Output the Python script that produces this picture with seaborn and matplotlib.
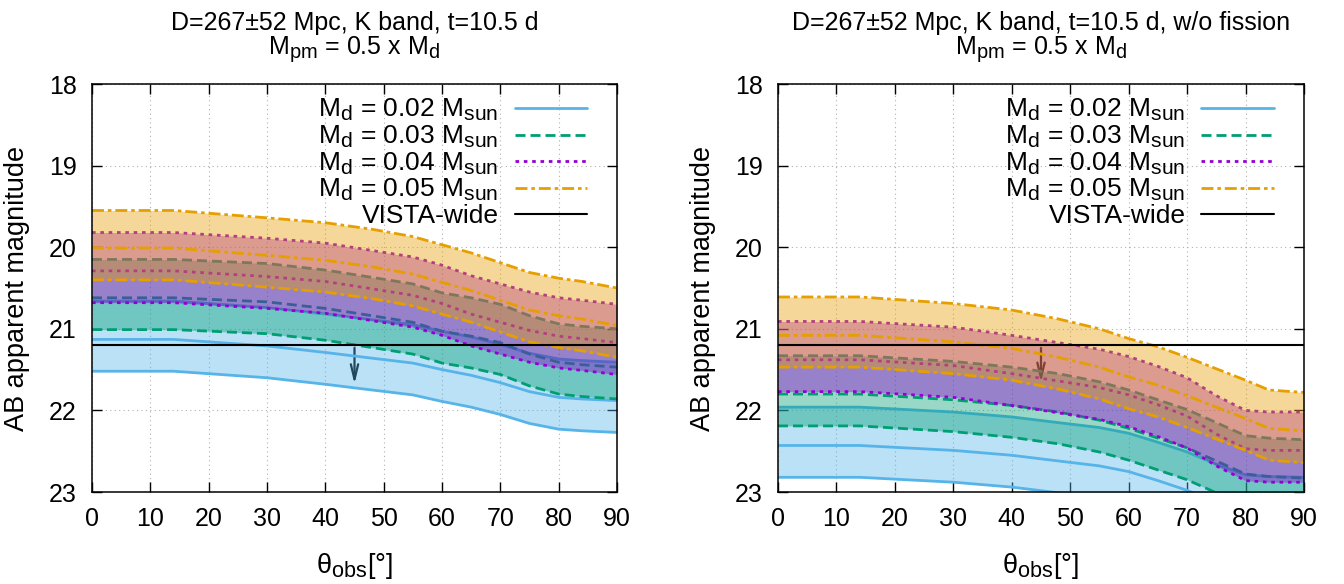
import matplotlib
matplotlib.use("Agg")
import matplotlib.pyplot as plt
import seaborn as sns
from matplotlib.lines import Line2D
try:
    import matplotlib._mathtext as _mt
    _mt.SHRINK_FACTOR = 0.8
except Exception:
    pass

# ---------------- data ----------------
theta = [0, 14, 30, 40, 48, 55, 60, 65, 70, 75, 80, 84, 90]
masses = ["0.02", "0.03", "0.04", "0.05"]
vista_mag = 21.2
arrow_theta = 45
arrow_end_left = 21.71
arrow_end_right = 21.69

# left panel (with fission): bright (D-52), central (D), faint (D+52)
L002_b = [20.66, 20.66, 20.74, 20.82, 20.89, 20.95, 21.03, 21.10, 21.19, 21.30, 21.37, 21.39, 21.41]
L002_c = [21.13, 21.13, 21.21, 21.29, 21.36, 21.42, 21.50, 21.57, 21.66, 21.77, 21.84, 21.86, 21.88]
L002_f = [21.52, 21.52, 21.60, 21.68, 21.75, 21.81, 21.89, 21.96, 22.05, 22.16, 22.23, 22.25, 22.27]
L003_b = [20.15, 20.15, 20.20, 20.28, 20.37, 20.45, 20.56, 20.62, 20.70, 20.84, 20.94, 20.97, 21.00]
L003_c = [20.62, 20.62, 20.67, 20.75, 20.84, 20.92, 21.03, 21.09, 21.17, 21.31, 21.41, 21.44, 21.47]
L003_f = [21.01, 21.01, 21.06, 21.14, 21.23, 21.31, 21.42, 21.48, 21.56, 21.70, 21.80, 21.83, 21.86]
L004_b = [19.82, 19.82, 19.89, 19.95, 20.04, 20.12, 20.22, 20.35, 20.45, 20.55, 20.62, 20.65, 20.70]
L004_c = [20.29, 20.29, 20.36, 20.42, 20.51, 20.59, 20.69, 20.82, 20.92, 21.02, 21.09, 21.12, 21.17]
L004_f = [20.68, 20.68, 20.75, 20.81, 20.90, 20.98, 21.08, 21.21, 21.31, 21.41, 21.48, 21.51, 21.56]
L005_b = [19.55, 19.55, 19.64, 19.70, 19.78, 19.87, 19.97, 20.07, 20.19, 20.31, 20.38, 20.42, 20.50]
L005_c = [20.01, 20.01, 20.10, 20.16, 20.24, 20.33, 20.43, 20.53, 20.65, 20.77, 20.84, 20.88, 20.96]
L005_f = [20.40, 20.40, 20.49, 20.55, 20.63, 20.72, 20.82, 20.92, 21.04, 21.16, 21.23, 21.27, 21.35]

# right panel (w/o fission)
R002_b = [21.96, 21.96, 22.02, 22.08, 22.15, 22.21, 22.28, 22.39, 22.51, 22.66, 22.79, 22.81, 22.82]
R002_c = [22.43, 22.43, 22.49, 22.55, 22.62, 22.68, 22.75, 22.86, 22.98, 23.13, 23.26, 23.28, 23.29]
R002_f = [22.82, 22.82, 22.88, 22.94, 23.01, 23.07, 23.14, 23.25, 23.37, 23.52, 23.65, 23.67, 23.68]
R003_b = [21.33, 21.33, 21.40, 21.47, 21.55, 21.65, 21.75, 21.87, 21.99, 22.15, 22.31, 22.34, 22.36]
R003_c = [21.80, 21.80, 21.87, 21.94, 22.02, 22.12, 22.22, 22.34, 22.46, 22.62, 22.78, 22.81, 22.83]
R003_f = [22.19, 22.19, 22.26, 22.33, 22.41, 22.51, 22.61, 22.73, 22.85, 23.01, 23.17, 23.20, 23.22]
R004_b = [20.91, 20.91, 20.98, 21.08, 21.17, 21.25, 21.34, 21.46, 21.60, 21.82, 22.00, 22.02, 22.02]
R004_c = [21.38, 21.38, 21.45, 21.55, 21.64, 21.72, 21.81, 21.93, 22.07, 22.29, 22.47, 22.49, 22.49]
R004_f = [21.77, 21.77, 21.84, 21.94, 22.03, 22.11, 22.20, 22.32, 22.46, 22.68, 22.86, 22.88, 22.88]
R005_b = [20.61, 20.61, 20.69, 20.77, 20.88, 21.00, 21.12, 21.22, 21.35, 21.49, 21.63, 21.75, 21.78]
R005_c = [21.08, 21.08, 21.16, 21.24, 21.35, 21.47, 21.59, 21.69, 21.82, 21.96, 22.10, 22.22, 22.25]
R005_f = [21.47, 21.47, 21.55, 21.63, 21.74, 21.86, 21.98, 22.08, 22.21, 22.35, 22.49, 22.61, 22.64]

left_sets = [(L002_b, L002_c, L002_f), (L003_b, L003_c, L003_f),
             (L004_b, L004_c, L004_f), (L005_b, L005_c, L005_f)]
right_sets = [(R002_b, R002_c, R002_f), (R003_b, R003_c, R003_f),
              (R004_b, R004_c, R004_f), (R005_b, R005_c, R005_f)]

title1_left = "D=267±52 Mpc, K band, t=10.5 d"
title1_right = "D=267±52 Mpc, K band, t=10.5 d, w/o fission"
title2 = r"M$_{pm}$ = 0.5 x M$_d$"
xticks = [0, 10, 20, 30, 40, 50, 60, 70, 80, 90]
yticks = [18, 19, 20, 21, 22, 23]

# ---------------- style ----------------
sns.set_theme(style="ticks")
plt.rcParams["font.family"] = ["Liberation Sans", "DejaVu Sans"]
plt.rcParams["mathtext.default"] = "regular"
plt.rcParams["axes.linewidth"] = 1.1
plt.rcParams["axes.edgecolor"] = "black"
plt.rcParams["text.color"] = "black"
plt.rcParams["axes.labelcolor"] = "black"
plt.rcParams["xtick.color"] = "black"
plt.rcParams["ytick.color"] = "black"
plt.rcParams["xtick.labelcolor"] = "black"
plt.rcParams["ytick.labelcolor"] = "black"

colors = ["#56b4e9", "#009e73", "#9400d3", "#e69f00"]
dash_list = [None, (3.6, 1.8), (1.3, 1.7), (4.3, 1.4, 1.3, 1.4)]
LW = 2.0
FS = 18
FS_LAB = 19.5
FS_LEG = 19

W, H = 1344, 584
fig = plt.figure(figsize=(W / 100, H / 100), dpi=100)
axL = fig.add_axes([92 / W, (H - 492) / H, 525 / W, 408 / H])
axR = fig.add_axes([778 / W, (H - 492) / H, 526 / W, 408 / H])


def draw(ax, sets, arrow_end, title1):
    ax.annotate("", xy=(arrow_theta, arrow_end), xytext=(arrow_theta, vista_mag),
                arrowprops=dict(arrowstyle="->,head_length=0.9,head_width=0.22",
                                color="black", lw=1.6), zorder=1)
    for k, (b, c, f) in enumerate(sets):
        col = colors[k]
        ax.fill_between(theta, b, f, color=col, alpha=0.4, lw=0, zorder=2 + 2 * k)
        for vals in (b, c, f):
            sns.lineplot(x=theta, y=vals, ax=ax, color=col, lw=LW,
                         errorbar=None, legend=False, sort=False)
            ln = ax.lines[-1]
            ln.set_zorder(3 + 2 * k)
            ln.set_solid_capstyle("butt")
            if dash_list[k] is not None:
                ln.set_dashes(dash_list[k])
                ln.set_dash_capstyle("butt")
    ax.axhline(vista_mag, color="black", lw=1.5, zorder=20)

    ax.set_xlim(0, 90)
    ax.set_ylim(23, 18)
    ax.set_xticks(xticks)
    ax.set_yticks(yticks)
    ax.grid(True, color="#b0b0b0", ls=(0, (1, 3)), lw=0.8)
    ax.set_axisbelow(True)
    ax.tick_params(direction="in", length=7, width=1.0, top=True, right=True,
                   labelsize=FS, pad=11, color="black", labelcolor="black")
    ax.set_xlabel(r"θ$_{obs}$[°]", fontsize=FS_LAB)
    ax.set_ylabel("AB apparent magnitude", fontsize=FS_LAB)
    ax.xaxis.set_label_coords(0.5, -0.145)
    ax.yaxis.set_label_coords(-0.118, 0.5)
    for s in ax.spines.values():
        s.set_visible(True)
        s.set_zorder(30)

    ax.text(0.5, 1.133, title1, transform=ax.transAxes, ha="center",
            va="baseline", fontsize=FS)
    ax.text(0.5, 1.071, title2, transform=ax.transAxes, ha="center",
            va="baseline", fontsize=FS)

    handles = []
    labels = []
    for k, m in enumerate(masses):
        h = Line2D([0], [0], color=colors[k], lw=LW)
        if dash_list[k] is not None:
            h.set_dashes(dash_list[k])
            h.set_dash_capstyle("butt")
        handles.append(h)
        labels.append(r"M$_d$ = " + m + r" M$_{sun}$")
    handles.append(Line2D([0], [0], color="black", lw=1.5))
    labels.append("VISTA-wide")
    leg = ax.legend(handles, labels, loc="upper right", bbox_to_anchor=(0.943, 0.968),
                    frameon=False, markerfirst=False, fontsize=FS_LEG, handlelength=2.75,
                    handletextpad=0.6, labelspacing=0.02, borderpad=0, borderaxespad=0)
    for t in leg.get_texts():
        t.set_ha("right")
    leg.set_zorder(40)


draw(axL, left_sets, arrow_end_left, title1_left)
draw(axR, right_sets, arrow_end_right, title1_right)

fig.savefig("out.png", dpi=100)
